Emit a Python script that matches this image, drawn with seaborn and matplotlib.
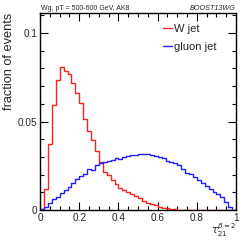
import numpy as np
import pandas as pd
import seaborn as sns
import matplotlib
matplotlib.use("Agg")
import matplotlib.pyplot as plt
from matplotlib.ticker import MultipleLocator

# tau21 (beta=2) distributions, 50 bins in [0, 1], fraction of events per bin
n_bins = 50
w_jet = [0.0005, 0.0117, 0.0373, 0.0591, 0.0734, 0.0806, 0.0787, 0.0768, 0.0716, 0.0659,
         0.0603, 0.0512, 0.0445, 0.0395, 0.0335, 0.0270, 0.0217, 0.0198, 0.0169, 0.0147,
         0.0122, 0.0113, 0.0104, 0.0090, 0.0079, 0.0066, 0.0053, 0.0041, 0.0034, 0.0028,
         0.0019, 0.0013, 0.0009, 0.0006, 0.0004, 0.0003, 0.0002, 0.0002, 0.0002, 0.0001,
         0.0001, 0.0001, 0.0001, 0.0001, 0.0001, 0.0001, 0.0001, 0.0001, 0.0000, 0.0000]
gluon_jet = [0.0004, 0.0019, 0.0038, 0.0060, 0.0075, 0.0094, 0.0113, 0.0132, 0.0151, 0.0173,
             0.0192, 0.0203, 0.0232, 0.0226, 0.0254, 0.0267, 0.0273, 0.0279, 0.0282, 0.0292,
             0.0286, 0.0298, 0.0305, 0.0309, 0.0313, 0.0316, 0.0318, 0.0314, 0.0309, 0.0305,
             0.0298, 0.0292, 0.0279, 0.0271, 0.0267, 0.0254, 0.0230, 0.0211, 0.0203, 0.0188,
             0.0169, 0.0154, 0.0136, 0.0117, 0.0104, 0.0090, 0.0075, 0.0047, 0.0015, 0.0000]

centers = (np.arange(n_bins) + 0.5) / n_bins
df = pd.DataFrame({"tau21": np.concatenate([centers, centers]),
                   "frac": np.concatenate([w_jet, gluon_jet]),
                   "sample": ["W jet"] * n_bins + ["gluon jet"] * n_bins})

sns.set_style("ticks")
plt.rcParams["font.family"] = ["Liberation Sans", "DejaVu Sans"]

fig = plt.figure(figsize=(2.49, 2.42), dpi=100)
ax = fig.add_axes([0.161, 0.132, 0.787, 0.816])

colors = {"W jet": "#ff2020", "gluon jet": "#2020ff"}
for name in ["W jet", "gluon jet"]:
    sns.histplot(data=df[df["sample"] == name], x="tau21", weights="frac",
                 bins=n_bins, binrange=(0, 1), element="step", fill=False,
                 color=colors[name], linewidth=1.0, label=name, ax=ax)

ax.set_xlim(0, 1)
ax.set_ylim(0, 0.1116)
ax.xaxis.set_minor_locator(MultipleLocator(0.05))
ax.yaxis.set_minor_locator(MultipleLocator(0.01))
ax.set_xticks([0, 0.2, 0.4, 0.6, 0.8, 1.0])
ax.set_xticklabels(["0", "0.2", "0.4", "0.6", "0.8", "1"])
ax.set_yticks([0, 0.05, 0.1])
ax.set_yticklabels(["0", "0.05", "0.1"])
ax.tick_params(which="both", direction="in", top=True, right=True, labelsize=7.2,
               color="black", width=0.8, pad=2)
ax.tick_params(which="major", length=6)
ax.tick_params(which="minor", length=3)
for s in ax.spines.values():
    s.set_color("black")
    s.set_linewidth(1.0)

ax.set_xlabel("")
ax.set_ylabel("fraction of events", fontsize=9.2)
ax.yaxis.set_label_coords(-0.13, 0.755)
ax.text(1.0, -0.056, r"$\tau_{21}^{\beta=2}$", transform=ax.transAxes,
        ha="right", va="top", fontsize=7.2)

ax.text(0.005, 1.005, "Wg, pT = 500-600 GeV, AK8", transform=ax.transAxes,
        ha="left", va="bottom", fontsize=5)
ax.text(1.0, 1.005, "BOOST13WG", transform=ax.transAxes,
        ha="right", va="bottom", fontsize=5.2, style="italic")

ax.legend(loc="upper left", bbox_to_anchor=(0.575, 0.995), frameon=False,
          fontsize=8, handlelength=0.8, handletextpad=0.2, labelspacing=0.75)

fig.savefig("out.png", dpi=100)
